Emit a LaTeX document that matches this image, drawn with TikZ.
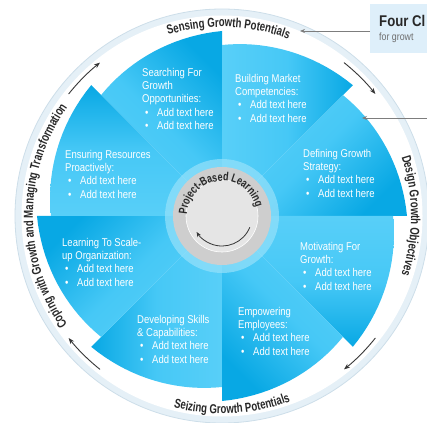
\documentclass[tikz,border=0pt]{standalone}
\usepackage{fontspec}
\setmainfont{Liberation Sans}
\newfontfamily\piecefamily[FakeStretch=0.84]{Liberation Sans}
\newfontfamily\ringfamily[FakeStretch=0.74]{Liberation Sans Bold}
\newfontfamily\titlefamily[FakeStretch=0.85]{Liberation Sans Bold}
\usetikzlibrary{arrows.meta,decorations.text}

\definecolor{pieceLight}{RGB}{88,207,248}
\definecolor{pieceMid}{RGB}{70,200,246}
\definecolor{pieceDark}{RGB}{8,168,228}
\definecolor{ringText}{RGB}{40,40,40}
\definecolor{ringBand}{RGB}{229,240,247}
\definecolor{ringEdge}{RGB}{205,222,233}
\definecolor{hubGrey}{RGB}{206,206,206}
\definecolor{hubLight}{RGB}{229,229,229}
\definecolor{hubHalo}{RGB}{150,225,250}
\definecolor{arrowGrey}{RGB}{55,55,55}
\definecolor{calloutFill}{RGB}{222,239,250}
\definecolor{calloutLine}{RGB}{125,125,125}
\definecolor{subGrey}{RGB}{110,110,110}

\newcommand{\piecefont}{\piecefamily\fontsize{11.3}{13.3}\selectfont}
\newcommand{\ringstyle}{\ringfamily\fontsize{13}{13}\selectfont\color{ringText}}
\newcommand{\hubstyle}{\ringfamily\fontsize{12}{12}\selectfont\color{ringText}}
\newcommand{\pbullet}{\hspace*{3pt}\makebox[12pt][l]{\textbullet}}
\newcommand{\wheelpiece}[1]{%
  \shade[top color=pieceLight, bottom color=pieceDark, middle color=pieceMid, shading angle=#1]
    (0,0) -- plot[domain=0:45, samples=19, variable=\t] ({#1-\t}:{171+14*\t/45}) -- cycle;}

\begin{document}
\begin{tikzpicture}[x=1pt,y=1pt,
  piecetext/.style={font=\piecefont, text=white, align=left, anchor=north west, inner sep=0pt},
  ringarrow/.style={draw=arrowGrey, line width=0.9pt, -{Stealth[length=6pt,width=4.5pt]}},
  hubarrow/.style={draw=arrowGrey, line width=0.8pt, -{Stealth[length=5pt,width=4pt]}},
  calloutarrow/.style={draw=calloutLine, line width=0.8pt, -{Stealth[length=5pt,width=4pt]}},
  ringtext/.style={decorate, decoration={text along path, text align=center, text={|\ringstyle|#1}}}
]
\useasboundingbox (-222,-206) rectangle (205,216);
\clip (-222,-206) rectangle (205,216);

% outer ring
\node[circle, fill=ringBand, draw=ringEdge, line width=0.8pt, minimum size=414pt, inner sep=0pt] (ring) at (0,0) {};
\node[circle, fill=white, minimum size=401pt, inner sep=0pt] (ringInner) at (0,0) {};

% pinwheel pieces
\foreach \a in {135,90,45,0,-45,-90,-135,180} {\wheelpiece{\a}}

% hub
\fill[hubHalo, opacity=0.7] (0,0) circle (57);
\node[circle, fill=hubGrey, minimum size=98pt, inner sep=0pt] (hub) at (0,0) {};
\node[circle, fill=hubLight, draw=white, line width=0.6pt, minimum size=72pt, inner sep=0pt] (hubCore) at (0,0) {};
\path[decorate, decoration={text along path, text align=center, text={|\hubstyle|Project-Based Learning}}]
  (210:35) arc[start angle=210, end angle=-18, radius=35];
\draw[hubarrow] (-22:30) arc[start angle=-22, end angle=-148, radius=30];

% ring texts
\path[ringtext={Sensing Growth Potentials}] (148:189) arc[start angle=148, end angle=28, radius=189];
\path[ringtext={Design Growth Objectives}] (60:189) arc[start angle=60, end angle=-60, radius=189];
\path[ringtext={Coping with Growth and Managing Transformation}] (240:189) arc[start angle=240, end angle=120, radius=189];
\path[ringtext={Seizing Growth Potentials}] (-147:197.5) arc[start angle=-147, end angle=-27, radius=197.5];

% ring arrows
\foreach \c in {135,45,-45,-135} {
  \draw[ringarrow] ({\c+6.5}:196) arc[start angle={\c+6.5}, end angle={\c-6.5}, radius=196];
}

% piece texts
\node[piecetext] (searching) at (-80,148) {Searching For\\Growth\\Opportunities:\\\pbullet Add text here\\\pbullet Add text here};
\node[piecetext] (building) at (13,142) {Building Market\\Competencies:\\\pbullet Add text here\\\pbullet Add text here};
\node[piecetext] (defining) at (81,67) {Defining Growth\\Strategy:\\\pbullet Add text here\\\pbullet Add text here};
\node[piecetext] (motivating) at (78,-26) {Motivating For\\Growth:\\\pbullet Add text here\\\pbullet Add text here};
\node[piecetext] (empowering) at (16,-91) {Empowering\\Employees:\\\pbullet Add text here\\\pbullet Add text here};
\node[piecetext] (developing) at (-85,-99) {Developing Skills\\\& Capabilities:\\\pbullet Add text here\\\pbullet Add text here};
\node[piecetext] (learning) at (-160,-22) {Learning To Scale-\\up Organization:\\\pbullet Add text here\\\pbullet Add text here};
\node[piecetext] (ensuring) at (-157,66) {Ensuring Resources\\Proactively:\\\pbullet Add text here\\\pbullet Add text here};

% callout
\node[fill=calloutFill, minimum width=80pt, minimum height=49pt, anchor=north west, inner sep=0pt] (callout) at (148,212) {};
\node[font=\titlefamily\fontsize{15.5}{15.5}\selectfont, text=ringText, anchor=base west, inner sep=0pt] (calloutTitle) at (157,189) {Four Cl};
\node[font=\piecefamily\fontsize{10.5}{10.5}\selectfont, text=subGrey, anchor=base west, inner sep=0pt] (calloutText) at (157,175) {for growt};
\coordinate (sensingTip) at (78,185);
\coordinate (edgeStart) at (205,98);
\coordinate (definingTip) at (140,98);
\draw[calloutarrow] (callout.west |- sensingTip) -- (sensingTip);
\draw[calloutarrow] (edgeStart) -- (definingTip);
\end{tikzpicture}
\end{document}
